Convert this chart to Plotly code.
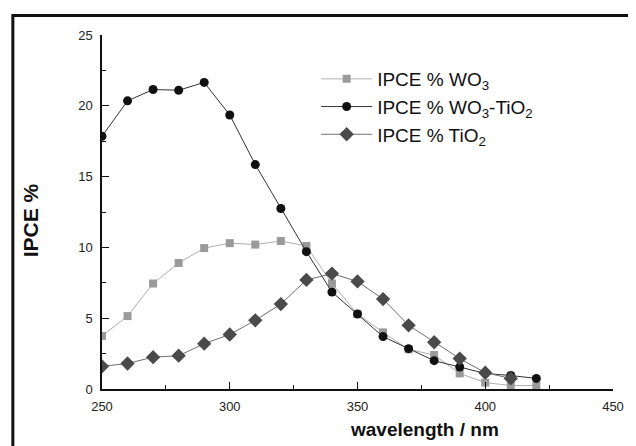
import plotly.graph_objects as go

wavelength = [250, 260, 270, 280, 290, 300, 310, 320, 330, 340, 350, 360, 370, 380, 390, 400, 410, 420]
ipce_wo3 = [3.75, 5.15, 7.45, 8.9, 9.95, 10.3, 10.2, 10.45, 10.1, 7.45, 5.3, 4.0, 2.8, 2.4, 1.1, 0.45, 0.25, 0.25]
ipce_wo3_tio2 = [17.85, 20.35, 21.15, 21.1, 21.65, 19.35, 15.85, 12.75, 9.7, 6.85, 5.3, 3.7, 2.85, 2.0, 1.55, 1.1, 0.95, 0.75]
wavelength_tio2 = [250, 260, 270, 280, 290, 300, 310, 320, 330, 340, 350, 360, 370, 380, 390, 400, 410]
ipce_tio2 = [1.6, 1.8, 2.25, 2.35, 3.2, 3.85, 4.85, 6.0, 7.7, 8.15, 7.6, 6.35, 4.5, 3.3, 2.15, 1.15, 0.75]

names = ["IPCE % WO<sub>3</sub>", "IPCE % WO<sub>3</sub>-TiO<sub>2</sub>", "IPCE % TiO<sub>2</sub>"]

fig = go.Figure()
fig.add_trace(go.Scatter(x=wavelength, y=ipce_wo3, name=names[0], mode="lines+markers",
                         line=dict(color="#b0b0b0", width=1),
                         marker=dict(symbol="square", size=8, color="#9a9a9a")))
fig.add_trace(go.Scatter(x=wavelength, y=ipce_wo3_tio2, name=names[1], mode="lines+markers",
                         line=dict(color="#333333", width=1),
                         marker=dict(symbol="circle", size=9, color="#111111")))
fig.add_trace(go.Scatter(x=wavelength_tio2, y=ipce_tio2, name=names[2], mode="lines+markers",
                         line=dict(color="#707070", width=1),
                         marker=dict(symbol="diamond", size=11, color="#4a4a4a")))

# page has an 8px body margin; figure coordinates = page coordinates - 8
OFF = 8
W, H = 636 - OFF, 446 - OFF
L, R, T, B = 102 - OFF, 615 - OFF, 35 - OFF, 389 - OFF


def px(x):
    return (x - OFF - L) / (R - L)


def py(y):
    return (B - (y - OFF)) / (B - T)


axis_common = dict(showline=True, linecolor="#111111", linewidth=1.5, ticks="inside",
                   tickcolor="#111111", ticklen=7, tickwidth=1, showgrid=False, zeroline=False,
                   tickfont=dict(family="Liberation Sans, Arial", size=13, color="#222222"),
                   mirror=False)

fig.update_xaxes(range=[250, 450], tickvals=[250, 300, 350, 400, 450],
                 minor=dict(ticks="inside", tickvals=[275, 325, 375, 425], ticklen=4,
                            tickcolor="#111111", showgrid=False),
                 ticklabelstandoff=5, **axis_common)
fig.update_yaxes(range=[0, 25], tickvals=[0, 5, 10, 15, 20, 25],
                 minor=dict(ticks="inside", tickvals=[2.5, 7.5, 12.5, 17.5, 22.5], ticklen=4,
                            tickcolor="#111111", showgrid=False),
                 ticklabelstandoff=5, **axis_common)

fig.add_shape(type="rect", xref="paper", yref="paper",
              x0=px(12.5), x1=px(660), y0=py(470), y1=py(15.5),
              line=dict(color="#111111", width=3), fillcolor="rgba(0,0,0,0)", layer="above")

fig.add_annotation(text="<b>wavelength / nm</b>", xref="paper", yref="paper",
                   x=px(426), y=py(429), xanchor="center", yanchor="middle", showarrow=False,
                   font=dict(family="Liberation Sans, Arial", size=19, color="#111111"))
fig.add_annotation(text="<b>IPCE %</b>", xref="paper", yref="paper",
                   x=px(30), y=py(220), xanchor="center", yanchor="middle",
                   showarrow=False, textangle=-90,
                   font=dict(family="Liberation Sans, Arial", size=21, color="#111111"))

fig.update_layout(
    width=W, height=H,
    margin=dict(l=L, r=W - R, t=T, b=H - B, pad=0),
    plot_bgcolor="white", paper_bgcolor="white",
    showlegend=True,
    legend=dict(x=px(317), y=py(60), xanchor="left", yanchor="top",
                bgcolor="rgba(0,0,0,0)", itemwidth=51,
                font=dict(family="Liberation Sans, Arial", size=19, color="#111111")),
)

fig.write_html("out.html")
